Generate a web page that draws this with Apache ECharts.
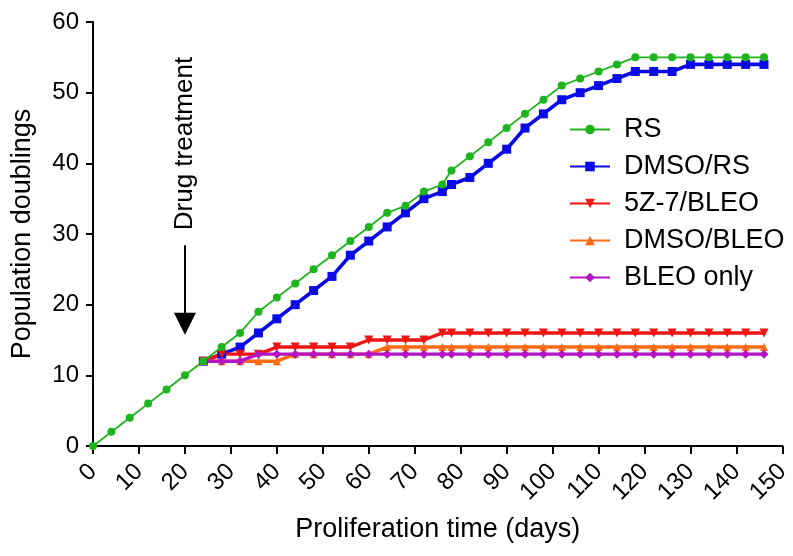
<!DOCTYPE html>
<html>
<head>
<meta charset="utf-8">
<script src="https://cdn.jsdelivr.net/npm/echarts@6/dist/echarts.min.js"></script>
<style>
  html, body { margin: 0; padding: 0; background: #fff; }
  #chart { width: 793px; height: 556px; }
</style>
</head>
<body>
<div id="chart"></div>
<script>
// days for untreated RS (from day 0) and treated arms (from day 24)
const daysRS = [0, 4, 8, 12, 16, 20, 24, 28, 32, 36, 40, 44, 48, 52, 56, 60, 64, 68, 72, 76, 78,
  82, 86, 90, 94, 98, 102, 106, 110, 114, 118, 122, 126, 130, 134, 138, 142, 146];
const daysTx = [24, 28, 32, 36, 40, 44, 48, 52, 56, 60, 64, 68, 72, 76, 78,
  82, 86, 90, 94, 98, 102, 106, 110, 114, 118, 122, 126, 130, 134, 138, 142, 146];

const rs = [0, 2, 4, 6, 8, 10, 12, 14, 16, 19, 21, 23, 25, 27, 29, 31, 33, 34, 36, 37, 39,
  41, 43, 45, 47, 49, 51, 52, 53, 54, 55, 55, 55, 55, 55, 55, 55, 55];
const dmsoRs = [12, 13, 14, 16, 18, 20, 22, 24, 27, 29, 31, 33, 35, 36, 37,
  38, 40, 42, 45, 47, 49, 50, 51, 52, 53, 53, 53, 54, 54, 54, 54, 54];
const z7Bleo = [12, 13, 13, 13, 14, 14, 14, 14, 14, 15, 15, 15, 15, 16, 16,
  16, 16, 16, 16, 16, 16, 16, 16, 16, 16, 16, 16, 16, 16, 16, 16, 16];
const dmsoBleo = [12, 12, 12, 12, 12, 13, 13, 13, 13, 13, 14, 14, 14, 14, 14,
  14, 14, 14, 14, 14, 14, 14, 14, 14, 14, 14, 14, 14, 14, 14, 14, 14];
const bleoOnly = [12, 12, 12, 13, 13, 13, 13, 13, 13, 13, 13, 13, 13, 13, 13,
  13, 13, 13, 13, 13, 13, 13, 13, 13, 13, 13, 13, 13, 13, 13, 13, 13];

const treatDay = 20;
const arrowFrom = 28.4;
const arrowTo = 17.3;

const FONT = '"Liberation Sans", Arial, sans-serif';

const zip = (xs, ys) => xs.map((x, i) => [x, ys[i]]);

const chart = echarts.init(document.getElementById('chart'));

const mk = (name, days, vals, color, symbol, size, width, extra) => Object.assign({
  name: name,
  type: 'line',
  data: zip(days, vals),
  symbol: symbol,
  symbolSize: size,
  showSymbol: true,
  lineStyle: { color: color, width: width },
  itemStyle: { color: color },
  emphasis: { disabled: true }
}, extra || {});

chart.setOption({
  animation: false,
  grid: { left: 93, right: 9, top: 22, bottom: 110 },
  legend: {
    orient: 'vertical',
    left: 564,
    top: 111,
    itemWidth: 40,
    itemHeight: 12,
    itemGap: 10,
    textStyle: { fontFamily: FONT, fontSize: 27, color: '#000', lineHeight: 27, padding: [0, 0, 0, 9] },
    data: ['RS', 'DMSO/RS', '5Z-7/BLEO', 'DMSO/BLEO', 'BLEO only']
  },
  xAxis: {
    type: 'value',
    min: 0, max: 150, interval: 10,
    name: 'Proliferation time (days)',
    nameLocation: 'middle',
    nameGap: 70,
    nameTextStyle: { fontFamily: FONT, fontSize: 27, color: '#000' },
    axisLine: { lineStyle: { color: '#000', width: 2 } },
    axisTick: { length: 8, lineStyle: { color: '#000', width: 2 } },
    axisLabel: { rotate: 45, margin: 22, fontFamily: FONT, fontSize: 24, color: '#000' },
    splitLine: { show: false }
  },
  yAxis: {
    type: 'value',
    min: 0, max: 60, interval: 10,
    name: 'Population doublings',
    nameLocation: 'middle',
    nameGap: 57,
    nameTextStyle: { fontFamily: FONT, fontSize: 27, color: '#000' },
    axisLine: { show: true, lineStyle: { color: '#000', width: 2 } },
    axisTick: { show: true, length: 7, lineStyle: { color: '#000', width: 2 } },
    axisLabel: { margin: 14, fontFamily: FONT, fontSize: 24, color: '#000' },
    splitLine: { show: false }
  },
  series: [
    mk('DMSO/RS', daysTx, dmsoRs, '#0a0ae6', 'rect', 9, 3.6, { z: 3 }),
    mk('RS', daysRS, rs, '#1eb41e', 'circle', 8, 1.8, {
      z: 4,
      markLine: {
        silent: true,
        symbol: ['none', 'triangle'],
        symbolSize: 22,
        label: { show: false },
        lineStyle: { color: '#000', width: 2, type: 'solid' },
        data: [[{ coord: [treatDay, arrowFrom] }, { coord: [treatDay, arrowTo] }]]
      }
    }),
    mk('5Z-7/BLEO', daysTx, z7Bleo, '#f01414', 'triangle', 9, 3.4, { z: 3, symbolRotate: 180 }),
    mk('DMSO/BLEO', daysTx, dmsoBleo, '#ff6a14', 'triangle', 8, 3.4, { z: 3 }),
    mk('BLEO only', daysTx, bleoOnly, '#b414c3', 'diamond', 9, 3.4, { z: 3 })
  ]
});

// rotated "Drug treatment" label placed through the grid's own scale
const p = chart.convertToPixel({ gridIndex: 0 }, [treatDay, 42.8]);
chart.setOption({
  graphic: [{
    type: 'text',
    x: p[0],
    y: p[1],
    rotation: Math.PI / 2,
    style: {
      text: 'Drug treatment',
      fontFamily: FONT,
      fontSize: 26,
      fill: '#000',
      align: 'center',
      verticalAlign: 'middle'
    }
  }]
});
</script>
</body>
</html>
